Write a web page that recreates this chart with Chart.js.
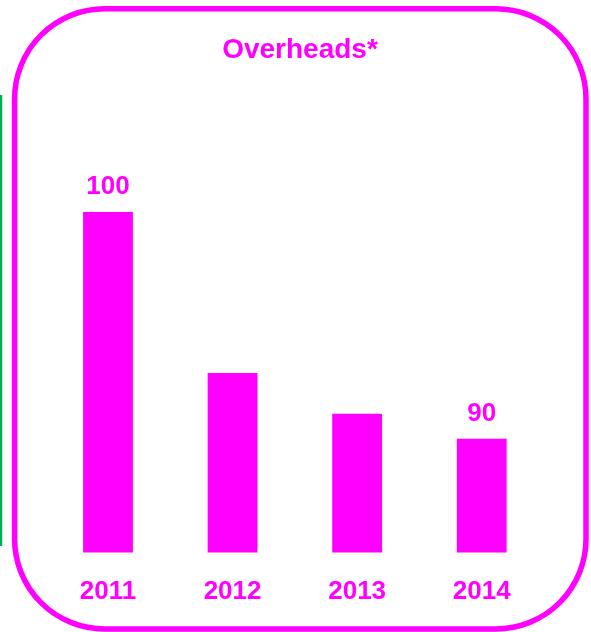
<!DOCTYPE html>
<html>
<head>
<meta charset="utf-8">
<title>Overheads</title>
<script src="https://cdn.jsdelivr.net/npm/chart.js@4.4.1/dist/chart.umd.min.js"></script>
<style>
  html, body { margin: 0; padding: 0; background: #fff; }
  canvas { display: block; }
</style>
</head>
<body>
<canvas id="overheadsChart" width="591" height="632"></canvas>
<script>
const years = ['2011', '2012', '2013', '2014'];
const overheads = [100, 92.9, 91.1, 90];
const labelledYears = ['2011', '2014'];

const MAGENTA = '#FF00FF';
const FONT = 'Liberation Sans, Arial, Helvetica, sans-serif';

// rounded magenta frame plus the edge of the neighbouring green panel
const panelFrame = {
    id: 'panelFrame',
    beforeDraw(chart) {
        const ctx = chart.ctx;
        ctx.save();
        ctx.strokeStyle = '#00B050';
        ctx.lineWidth = 2.5;
        ctx.beginPath();
        ctx.moveTo(1, 95);
        ctx.lineTo(1, 546);
        ctx.stroke();

        ctx.strokeStyle = MAGENTA;
        ctx.lineWidth = 5.5;
        ctx.beginPath();
        ctx.roundRect(14.6, 8.8, 571.4, 620.2, 90);
        ctx.stroke();
        ctx.restore();
    }
};

// value text above the first and last bar
const valueLabels = {
    id: 'valueLabels',
    afterDatasetsDraw(chart) {
        const ctx = chart.ctx;
        const meta = chart.getDatasetMeta(0);
        ctx.save();
        ctx.fillStyle = MAGENTA;
        ctx.font = 'bold 26px ' + FONT;
        ctx.textAlign = 'center';
        ctx.textBaseline = 'alphabetic';
        meta.data.forEach((bar, i) => {
            if (!labelledYears.includes(years[i])) return;
            ctx.fillText(String(overheads[i]), bar.x, bar.y - 18);
        });
        ctx.restore();
    }
};

window.onload = function () {
    const ctx = document.getElementById('overheadsChart').getContext('2d');
    new Chart(ctx, {
        type: 'bar',
        data: {
            labels: years,
            datasets: [{
                data: overheads,
                backgroundColor: MAGENTA,
                borderWidth: 0,
                barPercentage: 0.4,
                categoryPercentage: 1
            }]
        },
        options: {
            responsive: false,
            devicePixelRatio: 1,
            animation: false,
            layout: {
                padding: { left: 45.7, right: 36.7, top: 0, bottom: 0.4 }
            },
            plugins: {
                legend: { display: false },
                tooltip: { enabled: false },
                title: {
                    display: true,
                    text: 'Overheads*',
                    color: MAGENTA,
                    font: { family: FONT, size: 28, weight: 'bold', lineHeight: 1.2 },
                    padding: { top: 33.2, bottom: 144.9 }
                }
            },
            scales: {
                x: {
                    grid: { display: false, drawTicks: false, tickLength: 0 },
                    border: { display: false },
                    ticks: {
                        color: MAGENTA,
                        padding: 24,
                        font: { family: FONT, size: 26, weight: 'bold', lineHeight: 1.2 }
                    }
                },
                y: {
                    // hidden axis, kept only as a narrow spacer on the right
                    position: 'right',
                    min: 85,
                    max: 100,
                    grid: { display: false, drawTicks: false },
                    border: { display: false },
                    ticks: { display: false },
                    afterFit(scale) { scale.width = 10.3; }
                }
            }
        },
        plugins: [panelFrame, valueLabels]
    });
};
</script>
</body>
</html>
